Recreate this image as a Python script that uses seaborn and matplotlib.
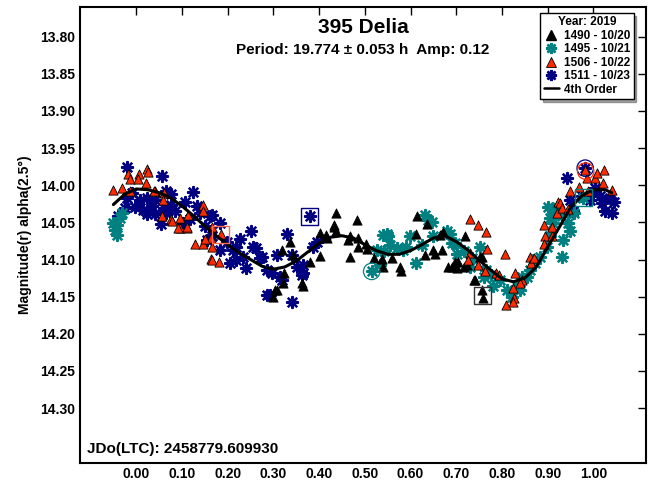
import numpy as np
import pandas as pd
import matplotlib
matplotlib.use("Agg")
import matplotlib.pyplot as plt
from matplotlib.lines import Line2D
import seaborn as sns

# ---- observations: rotational phase vs reduced magnitude ----
phase_1490 = [0.336, 0.318, 0.342, 0.323, 0.320, 0.303, 0.300, 0.362, 0.364, 0.380,
              0.402, 0.401, 0.418, 0.415, 0.432, 0.437, 0.438, 0.433, 0.482, 0.468,
              0.464, 0.486, 0.486, 0.502, 0.504, 0.468, 0.519, 0.537, 0.540, 0.559,
              0.577, 0.579, 0.613, 0.615, 0.635, 0.632, 0.650, 0.653, 0.668, 0.664,
              0.682, 0.690, 0.702, 0.704, 0.723, 0.741, 0.756, 0.758, 0.672, 0.719,
              0.756, 0.697, 0.716, 0.752, 0.739, 0.307]
mag_1490 = [14.076, 14.087, 14.094, 14.118, 14.132, 14.141, 14.151, 14.131, 14.135, 14.103,
            14.095, 14.064, 14.071, 14.067, 14.054, 14.061, 14.038, 14.056, 14.047, 14.068,
            14.074, 14.071, 14.083, 14.079, 14.086, 14.097, 14.098, 14.099, 14.110, 14.098,
            14.110, 14.115, 14.066, 14.042, 14.052, 14.094, 14.087, 14.092, 14.087, 14.067,
            14.110, 14.110, 14.111, 14.103, 14.107, 14.127, 14.141, 14.152, 14.063, 14.069,
            14.096, 14.103, 14.110, 14.096, 14.127, 14.141]

phase_1495 = [-0.042, -0.046, -0.042, -0.035, -0.031, -0.050,
              0.540, 0.551, 0.555, 0.526, 0.515, 0.584, 0.599, 0.612, 0.624, 0.639,
              0.646, 0.650, 0.679, 0.690, 0.591, 0.570, 0.541, 0.548, 0.632, 0.687,
              0.697, 0.716, 0.734, 0.752, 0.766, 0.777, 0.796, 0.810, 0.832, 0.843,
              0.861, 0.868, 0.883, 0.901, 0.533, 0.701, 0.731, 0.760, 0.781, 0.821,
              0.839, 0.854, 0.898, 0.905, 0.912, 0.916, 0.920, 0.912, 0.905, 0.931,
              0.945, 0.949, 0.934, 0.931, 0.872, 0.957, 0.978]
mag_1495 = [14.053, 14.060, 14.067, 14.044, 14.038, 14.051,
            14.067, 14.069, 14.080, 14.087, 14.116, 14.087, 14.069, 14.105, 14.080, 14.047,
            14.049, 14.069, 14.062, 14.078, 14.083, 14.085, 14.089, 14.065, 14.040, 14.065,
            14.078, 14.089, 14.098, 14.083, 14.114, 14.121, 14.127, 14.141, 14.136, 14.123,
            14.114, 14.101, 14.096, 14.029, 14.107, 14.092, 14.110, 14.123, 14.136, 14.150,
            14.141, 14.123, 14.083, 14.069, 14.051, 14.038, 14.029, 14.033, 14.044, 14.042,
            14.051, 14.062, 14.074, 14.097, 14.105, 14.038, 14.017]

phase_1506 = [-0.050, -0.031, -0.014, -0.017, -0.013, 0.005, 0.004, 0.023, 0.025, 0.021,
              0.040, 0.060, 0.057, 0.076, 0.079, 0.095, 0.095, 0.110, 0.114, 0.146,
              0.145, 0.128, 0.146, 0.165, 0.163, 0.165, 0.163, 0.150, 0.185, 0.166,
              0.182, 0.039, 0.058, 0.092, 0.112,
              0.730, 0.748, 0.765, 0.767, 0.730, 0.726, 0.748, 0.763, 0.806, 0.788,
              0.794, 0.828, 0.843, 0.839, 0.825, 0.826, 0.809, 0.825, 0.861, 0.863,
              0.892, 0.894, 0.909, 0.909, 0.920, 0.923, 0.891, 0.927, 0.931, 0.945,
              0.949, 0.968, 0.985, 1.003, 1.007, 1.023, 1.020, 1.040, 0.988, 0.982,
              0.869]
mag_1506 = [14.007, 14.004, 14.008, 13.985, 13.991, 13.985, 13.992, 13.978, 13.982, 13.997,
            14.008, 14.011, 14.041, 14.045, 14.048, 14.057, 14.044, 14.057, 14.040, 14.027,
            14.035, 14.079, 14.079, 14.056, 14.071, 14.083, 14.099, 14.072, 14.066, 14.101,
            14.104, 14.008, 14.020, 14.058, 14.056,
            14.045, 14.053, 14.063, 14.086, 14.091, 14.101, 14.107, 14.115, 14.092, 14.118,
            14.121, 14.118, 14.128, 14.131, 14.139, 14.152, 14.161, 14.157, 14.097, 14.105,
            14.054, 14.068, 14.068, 14.056, 14.038, 14.022, 14.079, 14.024, 14.030, 14.032,
            14.008, 14.003, 13.990, 13.990, 13.984, 13.979, 13.997, 14.007, 14.008, 13.979,
            14.098]

phase_1511 = [-0.021, -0.021, -0.025, -0.039, 0.057, 0.066, 0.008, 0.023, 0.041, 0.023,
              0.041, 0.060, 0.055, 0.077, 0.076, 0.106, 0.125, 0.139, 0.103, 0.161,
              0.165, -0.003, -0.010, 0.066, 0.183, 0.198, 0.212, 0.219, 0.241, 0.252,
              0.256, 0.274, 0.285, 0.285, 0.329, 0.340, 0.314, 0.351, 0.362, 0.380,
              0.387, 0.183, 0.154, 0.165, 0.219, 0.234, 0.270, 0.205, 0.307, 0.318,
              0.296, 0.292, 0.340, 0.365, 0.365, 0.395, 0.085, 0.118, 0.132, 0.150,
              0.227, 0.262, 0.035, 0.014,
              0.942, 0.949, 0.956, 0.982, 1.003, 1.014, 1.018, 1.036, 1.044, 1.025,
              1.040, 0.993, 0.975, 1.000]
mag_1511 = [13.976, 14.017, 14.031, 14.042, 13.987, 14.008, 14.020, 14.017, 14.020, 14.039,
            14.039, 14.031, 14.052, 14.012, 14.026, 14.022, 14.009, 14.038, 14.051, 14.042,
            14.069, 14.029, 14.011, 14.038, 14.051, 14.076, 14.087, 14.101, 14.112, 14.062,
            14.083, 14.096, 14.114, 14.148, 14.065, 14.157, 14.123, 14.110, 14.121, 14.042,
            14.083, 14.087, 14.074, 14.040, 14.083, 14.096, 14.098, 14.105, 14.094, 14.127,
            14.118, 14.148, 14.094, 14.118, 14.107, 14.076, 14.035, 14.046, 14.028, 14.055,
            14.073, 14.085, 14.028, 14.033,
            13.990, 14.020, 14.035, 13.977, 14.004, 14.015, 14.024, 14.017, 14.022, 14.035,
            14.038, 14.020, 14.015, 14.010]

# 4th-order Fourier fit, tabulated along the phase axis
fit_phase = [-0.050, -0.025, 0.000, 0.025, 0.050, 0.075, 0.100, 0.125, 0.150, 0.175,
             0.200, 0.225, 0.250, 0.275, 0.300, 0.325, 0.350, 0.375, 0.400, 0.425,
             0.450, 0.475, 0.500, 0.525, 0.550, 0.575, 0.600, 0.625, 0.650, 0.675,
             0.700, 0.725, 0.750, 0.775, 0.800, 0.825, 0.850, 0.875, 0.900, 0.925,
             0.950, 0.975, 1.000, 1.025, 1.040]
fit_mag = [14.026, 14.012, 14.005, 14.006, 14.010, 14.017, 14.028, 14.041, 14.055, 14.068,
           14.080, 14.091, 14.100, 14.109, 14.113, 14.110, 14.102, 14.090, 14.078, 14.070,
           14.068, 14.071, 14.080, 14.088, 14.093, 14.093, 14.088, 14.080, 14.071, 14.068,
           14.076, 14.087, 14.101, 14.114, 14.126, 14.130, 14.125, 14.110, 14.083, 14.057,
           14.030, 14.014, 14.006, 14.006, 14.010]

session_labels = ["1490 - 10/20", "1495 - 10/21", "1506 - 10/22", "1511 - 10/23"]
x_ticks = [0.0, 0.1, 0.2, 0.3, 0.4, 0.5, 0.6, 0.7, 0.8, 0.9, 1.0]
y_ticks = [13.80, 13.85, 13.90, 13.95, 14.00, 14.05, 14.10, 14.15, 14.20, 14.25, 14.30]

# session start/end markers (open symbols)
mark_sq_phase = [0.185, 0.380, 0.757, 0.978]
mark_sq_mag = [14.066, 14.042, 14.148, 14.017]
mark_ci_phase = [0.515, 0.982, 0.983]
mark_ci_mag = [14.116, 13.977, 13.981]

sns.set_style("white")
plt.rcParams["font.family"] = ["Liberation Sans", "DejaVu Sans"]
plt.rcParams["font.weight"] = "bold"
plt.rcParams["text.color"] = "black"
plt.rcParams["axes.labelcolor"] = "black"
plt.rcParams["xtick.color"] = "black"
plt.rcParams["ytick.color"] = "black"

fig = plt.figure(figsize=(6.51, 4.82), dpi=100)
ax = fig.add_axes([80 / 651, 1 - 463 / 482, 566 / 651, 456 / 482])

BLACK = "#000000"
TEAL = "#008080"
RED = "#ff2a00"
NAVY = "#000080"
ASTER = (8, 2, 0)

frames = {
    "1490": pd.DataFrame({"phase": phase_1490, "mag": mag_1490}),
    "1495": pd.DataFrame({"phase": phase_1495, "mag": mag_1495}),
    "1506": pd.DataFrame({"phase": phase_1506, "mag": mag_1506}),
    "1511": pd.DataFrame({"phase": phase_1511, "mag": mag_1511}),
}

sns.scatterplot(data=frames["1511"], x="phase", y="mag", ax=ax, marker=ASTER,
                s=62, color=NAVY, linewidth=1.7, zorder=2)
sns.scatterplot(data=frames["1495"], x="phase", y="mag", ax=ax, marker=ASTER,
                s=62, color=TEAL, linewidth=1.7, zorder=2)
sns.scatterplot(data=frames["1490"], x="phase", y="mag", ax=ax, marker="^",
                s=44, color=BLACK, edgecolor=BLACK, linewidth=0.6, zorder=3)
sns.scatterplot(data=frames["1506"], x="phase", y="mag", ax=ax, marker="^",
                s=44, color=RED, edgecolor=BLACK, linewidth=0.6, zorder=3)

sns.lineplot(x=fit_phase, y=fit_mag, ax=ax, color="black", linewidth=2.2,
             sort=False, zorder=4)

sq_colors = ["#ff6a50", NAVY, "#333333", TEAL]
for xp, yp, c in zip(mark_sq_phase, mark_sq_mag, sq_colors):
    ax.scatter([xp], [yp], marker="s", s=150, facecolors="none", edgecolors=c,
               linewidths=1.0, zorder=5)
ci_colors = [TEAL, NAVY, RED]
for xp, yp, c in zip(mark_ci_phase, mark_ci_mag, ci_colors):
    ax.scatter([xp], [yp], marker="o", s=140, facecolors="none", edgecolors=c,
               linewidths=0.9, zorder=5)

ax.set_xlim(-0.123, 1.115)
ax.set_ylim(14.374, 13.760)
ax.set_xticks(x_ticks)
ax.set_xticklabels([f"{t:.2f}" for t in x_ticks])
ax.set_yticks(y_ticks)
ax.set_yticklabels([f"{t:.2f}" for t in y_ticks])
ax.tick_params(axis="both", which="major", direction="in", length=6, width=1.0,
               top=True, right=True, labelsize=10, colors="black")
ax.tick_params(axis="x", pad=3)
for lab in ax.get_xticklabels() + ax.get_yticklabels():
    lab.set_fontweight("bold")
for sp in ax.spines.values():
    sp.set_linewidth(1.5)
    sp.set_color("black")
ax.set_xlabel("")
ax.set_ylabel("Magnitude(r) alpha(2.5°)", fontsize=10, fontweight="bold", labelpad=6,
              color="black")

ax.text(0.5, 0.955, "395 Delia", transform=ax.transAxes, ha="center", va="center",
        fontsize=15, fontweight="bold", color="black")
ax.text(0.5, 0.905, "Period: 19.774 ± 0.053 h  Amp: 0.12", transform=ax.transAxes,
        ha="center", va="center", fontsize=11, fontweight="bold", color="black")
ax.text(0.013, 0.03, "JDo(LTC): 2458779.609930", transform=ax.transAxes,
        ha="left", va="center", fontsize=11, fontweight="bold", color="black")

handles = [
    Line2D([], [], linestyle="none", marker="^", markersize=6.5, color=BLACK,
           markeredgecolor=BLACK),
    Line2D([], [], linestyle="none", marker=ASTER, markersize=8, color=TEAL,
           markeredgewidth=1.8),
    Line2D([], [], linestyle="none", marker="^", markersize=6.5, color=RED,
           markeredgecolor=BLACK, markeredgewidth=0.6),
    Line2D([], [], linestyle="none", marker=ASTER, markersize=8, color=NAVY,
           markeredgewidth=1.8),
    Line2D([], [], color="black", linewidth=1.8),
]
leg = ax.legend(handles, session_labels + ["4th Order"], title="Year: 2019",
                loc="upper right", bbox_to_anchor=(0.978, 0.987), frameon=True,
                fancybox=False, shadow=True, fontsize=8.5, title_fontsize=8.5,
                handlelength=1.3, handletextpad=0.4, borderpad=0.3,
                labelspacing=0.12, borderaxespad=0.0)
leg.get_frame().set_edgecolor("black")
leg.get_frame().set_linewidth(1.0)
leg.get_title().set_fontweight("bold")
leg.get_title().set_color("black")
for t in leg.get_texts():
    t.set_fontweight("bold")
    t.set_color("black")

fig.savefig("out.png", dpi=100)
